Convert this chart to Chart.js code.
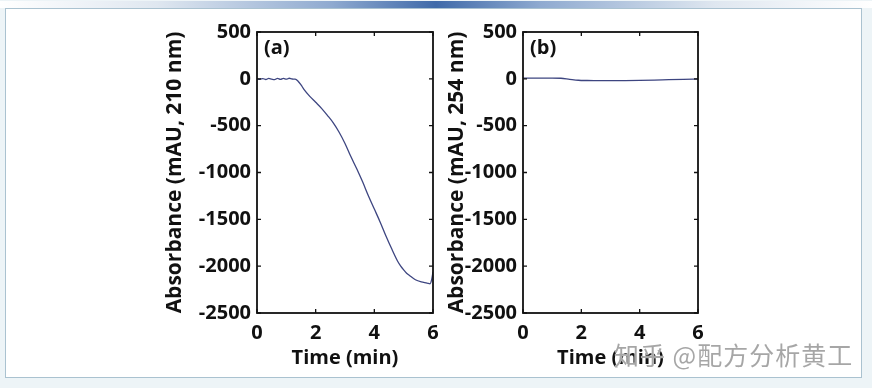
<!DOCTYPE html>
<html>
<head>
<meta charset="utf-8">
<script src="https://cdn.jsdelivr.net/npm/chart.js@4.4.1/dist/chart.umd.min.js"></script>
<style>
  html, body { margin: 0; padding: 0; background: #fff; }
  #page { position: relative; width: 872px; height: 388px; background: #edf4f7; overflow: hidden; }
  #bar { position: absolute; left: 0; top: 1px; width: 872px; height: 7px;
    background: linear-gradient(to right, #ffffff 0%, #dfe7f0 18%, #8faad0 38%, #3f6aa9 50%, #8faad0 62%, #dfe7f0 82%, #ffffff 100%); }
  #frame { position: absolute; left: 5px; top: 8px; width: 855px; height: 368px; background: #fff;
    border: 1.5px solid #aac2d0; }
  canvas { position: absolute; }
  #wm { position: absolute; left: 614px; top: 336px; font-family: "Noto Sans CJK SC", sans-serif;
    font-size: 25px; color: rgba(150,150,150,0.85); letter-spacing: 1px;
    text-shadow: 0 0 1px #fff, 0 0 1px #fff; white-space: pre; }
</style>
</head>
<body>
<div id="page">
  <div id="bar"></div>
  <div id="frame"></div>
  <canvas id="chartA" width="300" height="363" style="left:150px;top:14px"></canvas>
  <canvas id="chartB" width="290" height="363" style="left:440px;top:14px"></canvas>
  <div id="wm">知乎 @配方分析黄工</div>
</div>
<script>
// panel (a) : 210 nm trace
const timeA = [0, 0.1, 0.2, 0.3, 0.4, 0.5, 0.6, 0.7, 0.8, 0.9, 1.0, 1.1, 1.2, 1.3, 1.4, 1.5, 1.6, 1.8, 2.0, 2.2, 2.4, 2.6, 2.8, 3.0, 3.2, 3.4, 3.6, 3.8, 4.0, 4.2, 4.4, 4.6, 4.8, 4.9, 5.0, 5.1, 5.2, 5.4, 5.6, 5.8, 5.9, 5.95, 6.0];
const absA = [0, -5, 3, -7, 4, -3, -8, 4, -6, 5, -4, 6, -2, -3, -25, -65, -112, -187, -250, -315, -390, -470, -570, -690, -830, -960, -1100, -1250, -1390, -1530, -1680, -1820, -1950, -2000, -2040, -2075, -2100, -2145, -2168, -2180, -2188, -2150, -2060];

// panel (b) : 254 nm trace
const timeB = [0, 0.5, 1.0, 1.3, 1.6, 1.9, 2.2, 2.6, 3.0, 3.5, 4.0, 4.5, 5.0, 5.5, 6.0];
const absB = [8, 8, 8, 6, -5, -15, -18, -20, -20, -19, -17, -14, -9, -5, -3];

const xTicks = [0, 2, 4, 6];
const yMin = -2500, yMax = 500, yStep = 500;

const tickFont = { family: 'Open Sans', size: 20, weight: 'bold' };
const yTitleFont = { family: 'Open Sans', size: 21, weight: 'bold' };
const ink = '#111';
const lineColor = '#3d4580';

// box, inward ticks on all four sides, panel letter
const framePlugin = {
  id: 'frame',
  afterDraw(chart, args, opts) {
    const { ctx, chartArea: a, scales } = chart;
    ctx.save();
    ctx.strokeStyle = ink;
    ctx.lineWidth = 1.3;
    ctx.beginPath();
    scales.x.ticks.forEach(t => {
      const px = scales.x.getPixelForValue(t.value);
      ctx.moveTo(px, a.bottom); ctx.lineTo(px, a.bottom - 4);
      ctx.moveTo(px, a.top); ctx.lineTo(px, a.top + 4);
    });
    scales.y.ticks.forEach(t => {
      const py = scales.y.getPixelForValue(t.value);
      ctx.moveTo(a.left, py); ctx.lineTo(a.left + 4, py);
      ctx.moveTo(a.right, py); ctx.lineTo(a.right - 4, py);
    });
    ctx.stroke();
    ctx.lineWidth = 1.8;
    ctx.strokeRect(a.left, a.top, a.right - a.left, a.bottom - a.top);
    ctx.fillStyle = ink;
    ctx.font = 'bold 20px "Open Sans"';
    ctx.textBaseline = 'middle';
    ctx.fillText(opts.label, a.left + 7, a.top + 16);
    ctx.restore();
  }
};

function makeChart(id, times, values, label, yTitle, yWidth, titlePad, rightPad) {
  return new Chart(document.getElementById(id), {
    type: 'line',
    data: {
      datasets: [{
        data: times.map((t, i) => ({ x: t, y: values[i] })),
        borderColor: lineColor,
        borderWidth: 1.3,
        pointRadius: 0,
        cubicInterpolationMode: 'monotone'
      }]
    },
    options: {
      responsive: false,
      animation: false,
      layout: { padding: { top: 0, right: rightPad, left: 0, bottom: 0 } },
      plugins: {
        legend: { display: false },
        tooltip: { enabled: false },
        frame: { label: label }
      },
      scales: {
        x: {
          type: 'linear', min: 0, max: 6,
          afterBuildTicks: s => { s.ticks = xTicks.map(v => ({ value: v })); },
          ticks: { font: tickFont, color: ink, padding: 8, maxRotation: 0, callback: v => String(v) },
          grid: { display: false, drawTicks: false },
          border: { display: false },
          title: { display: true, text: 'Time (min)', font: tickFont, color: ink, padding: { top: 6, bottom: 7 } },
          afterFit: s => { s.height = 64; }
        },
        y: {
          min: yMin, max: yMax,
          ticks: { stepSize: yStep, font: tickFont, color: ink, padding: 6, callback: v => String(v) },
          grid: { display: false, drawTicks: false },
          border: { display: false },
          title: { display: true, text: yTitle, font: yTitleFont, color: ink, padding: { top: titlePad, bottom: 0 } },
          afterFit: s => { s.width = yWidth; }
        }
      }
    },
    plugins: [framePlugin]
  });
}

makeChart('chartA', timeA, absA, '(a)', 'Absorbance (mAU, 210 nm)', 107, 12, 17);
makeChart('chartB', timeB, absB, '(b)', 'Absorbance (mAU, 254 nm)', 83, 4, 32);
</script>
</body>
</html>
